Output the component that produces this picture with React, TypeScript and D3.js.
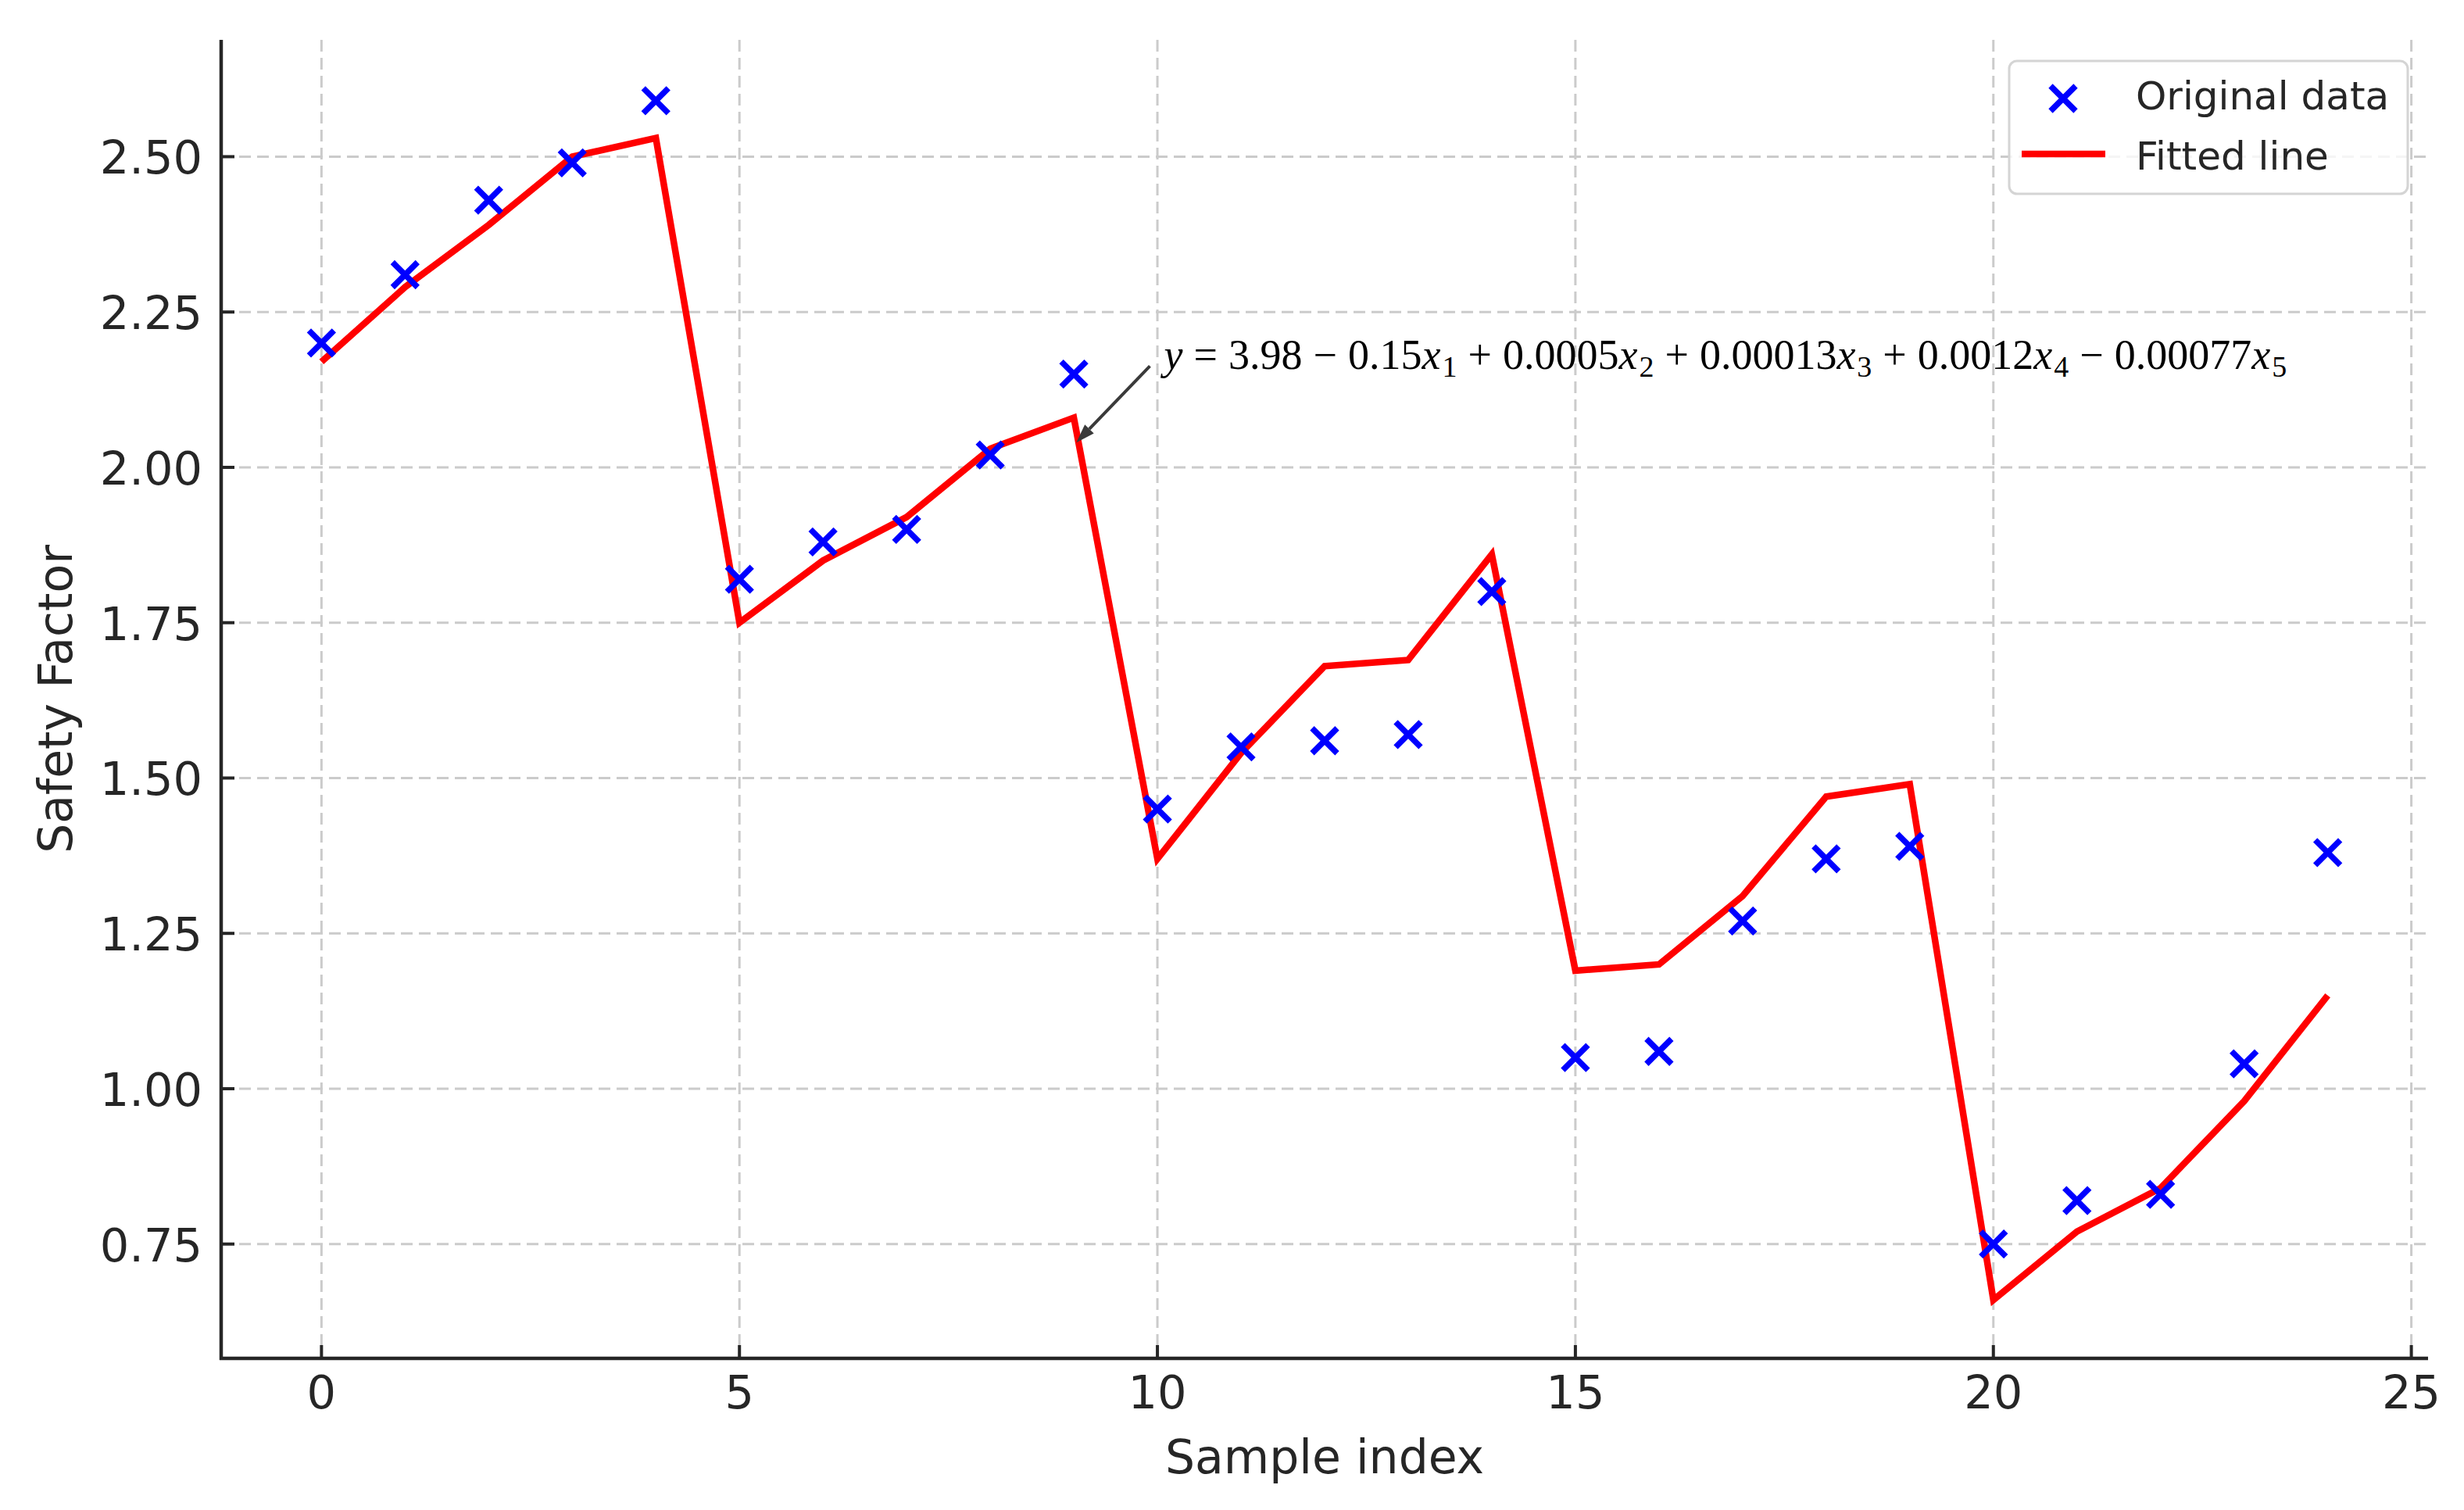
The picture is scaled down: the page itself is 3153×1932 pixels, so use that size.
import React, { useEffect } from 'react';
import * as d3 from 'd3';

// ---------- data ----------
const sampleIndex = [0, 1, 2, 3, 4, 5, 6, 7, 8, 9, 10, 11, 12, 13, 14, 15, 16, 17, 18, 19, 20, 21, 22, 23, 24];
const originalData = [2.20, 2.31, 2.43, 2.49, 2.59, 1.82, 1.88, 1.90, 2.02, 2.15, 1.45, 1.55, 1.56, 1.57, 1.80, 1.05, 1.06, 1.27, 1.37, 1.39, 0.75, 0.82, 0.83, 1.04, 1.38];
const fittedData = [2.17, 2.29, 2.39, 2.50, 2.53, 1.75, 1.85, 1.92, 2.03, 2.08, 1.37, 1.54, 1.68, 1.69, 1.86, 1.19, 1.20, 1.31, 1.47, 1.49, 0.66, 0.77, 0.84, 0.98, 1.15];
const xTicks = [0, 5, 10, 15, 20, 25];
const yTicks = [0.75, 1.0, 1.25, 1.5, 1.75, 2.0, 2.25, 2.5];
const legendLabels = ['Original data', 'Fitted line'];
const eqIntercept = '3.98';
const eqSigns = ['−', '+', '+', '+', '−'];
const eqCoefs = ['0.15', '0.0005', '0.00013', '0.0012', '0.00077'];
const annotTip = { x: 9.03, y: 2.04 };
const annotTail = { x: 9.91, y: 2.163 };
const annotText = { x: 10.08, y: 2.158 };

// ---------- layout ----------
const W = 3153;
const H = 1932;
const L = 283, R = 3107, T = 51, B = 1738;

const x = d3.scaleLinear().domain([-1.2, 25.2]).range([L, R]);
const y = d3.scaleLinear().domain([0.566, 2.688]).range([B, T]);

const TEXT = '#262626';
const GRID = '#cbcbcb';

function XMark({ cx, cy, s = 16, w = 7.5 }: { cx: number; cy: number; s?: number; w?: number }) {
  return (
    <path
      d={`M${cx - s},${cy - s}L${cx + s},${cy + s}M${cx - s},${cy + s}L${cx + s},${cy - s}`}
      stroke="#0000ff"
      strokeWidth={w}
      fill="none"
    />
  );
}

export default function App() {
  useEffect(() => {
    document.body.style.margin = '0';
    document.body.style.overflow = 'hidden';
  }, []);

  const line = d3
    .line<number>()
    .x((_, i) => x(sampleIndex[i]))
    .y((d) => y(d));

  // arrow geometry
  const tx = x(annotTip.x), ty = y(annotTip.y);
  const sx = x(annotTail.x), sy = y(annotTail.y);
  const ang = Math.atan2(ty - sy, tx - sx);
  const hl = 24, hw = 8;
  const bx = tx - hl * Math.cos(ang), by = ty - hl * Math.sin(ang);
  const head = `M${tx},${ty}L${bx + hw * Math.sin(ang)},${by - hw * Math.cos(ang)}L${bx - hw * Math.sin(ang)},${by + hw * Math.cos(ang)}Z`;

  const gap = 14;
  const subShift = 10;

  return (
    <svg
      width={W}
      height={H}
      viewBox={`0 0 ${W} ${H}`}
      style={{ position: 'absolute', left: 0, top: 0, background: '#fff' }}
    >
      <rect x={0} y={0} width={W} height={H} fill="#fff" />
      {/* grid */}
      <g stroke={GRID} strokeWidth={3} strokeDasharray="15,8">
        {xTicks.map((t) => (
          <line key={'gx' + t} x1={x(t)} x2={x(t)} y1={T} y2={B} />
        ))}
        {yTicks.map((t) => (
          <line key={'gy' + t} x1={L} x2={R} y1={y(t)} y2={y(t)} />
        ))}
      </g>

      {/* fitted line */}
      <path d={line(fittedData) || ''} fill="none" stroke="#ff0000" strokeWidth={8.5} strokeLinejoin="miter" />

      {/* original points */}
      {originalData.map((v, i) => (
        <XMark key={'p' + i} cx={x(sampleIndex[i])} cy={y(v)} />
      ))}

      {/* spines */}
      <line x1={L} x2={L} y1={T} y2={B + 2} stroke={TEXT} strokeWidth={4.5} />
      <line x1={L - 2} x2={R} y1={B} y2={B} stroke={TEXT} strokeWidth={4.5} />

      {/* ticks (inward) */}
      <g stroke={TEXT} strokeWidth={4}>
        {xTicks.map((t) => (
          <line key={'tx' + t} x1={x(t)} x2={x(t)} y1={B} y2={B - 17} />
        ))}
        {yTicks.map((t) => (
          <line key={'ty' + t} x1={L} x2={L + 17} y1={y(t)} y2={y(t)} />
        ))}
      </g>

      {/* tick labels */}
      <g fontFamily="'DejaVu Sans', sans-serif" fontSize={59} fill={TEXT}>
        {xTicks.map((t) => (
          <text key={'lx' + t} x={x(t)} y={B + 64} textAnchor="middle">
            {d3.format('d')(t)}
          </text>
        ))}
        {yTicks.map((t) => (
          <text key={'ly' + t} x={259} y={y(t) + 22} textAnchor="end">
            {d3.format('.2f')(t)}
          </text>
        ))}
      </g>

      {/* axis labels */}
      <text
        x={(L + R) / 2}
        y={1885}
        textAnchor="middle"
        fontFamily="'DejaVu Sans', sans-serif"
        fontSize={60}
        fill={TEXT}
      >
        Sample index
      </text>
      <text
        transform={`translate(92, ${(T + B) / 2}) rotate(-90)`}
        textAnchor="middle"
        fontFamily="'DejaVu Sans', sans-serif"
        fontSize={60}
        fill={TEXT}
      >
        Safety Factor
      </text>

      {/* annotation arrow */}
      <line x1={sx} y1={sy} x2={bx} y2={by} stroke="#3a3a3a" strokeWidth={4} />
      <path d={head} fill="#3a3a3a" />

      {/* equation */}
      <text
        x={x(annotText.x)}
        y={y(annotText.y)}
        fontFamily="'Liberation Serif', serif"
        fontSize={54}
        fill="#000"
      >
        <tspan fontStyle="italic">y</tspan>
        <tspan dx={gap}>=</tspan>
        <tspan dx={gap}>{eqIntercept}</tspan>
        {eqCoefs.map((c, i) => (
          <React.Fragment key={'eq' + i}>
            <tspan dx={gap} dy={i === 0 ? 0 : -subShift}>{eqSigns[i]}</tspan>
            <tspan dx={gap}>{c}</tspan>
            <tspan fontStyle="italic">x</tspan>
            <tspan fontSize={38} dy={subShift} dx={2}>{String(i + 1)}</tspan>
          </React.Fragment>
        ))}
      </text>

      {/* legend */}
      <g>
        <rect x={2571} y={78} width={510} height={170} rx={10} ry={10} fill="#fff" fillOpacity={0.8} stroke="#d4d4d4" strokeWidth={3} />
        <XMark cx={2640} cy={126} />
        <line x1={2587} x2={2694} y1={197} y2={197} stroke="#ff0000" strokeWidth={8.5} />
        <g fontFamily="'DejaVu Sans', sans-serif" fontSize={50} fill={TEXT}>
          <text x={2733} y={140}>{legendLabels[0]}</text>
          <text x={2733} y={217}>{legendLabels[1]}</text>
        </g>
      </g>
    </svg>
  );
}
